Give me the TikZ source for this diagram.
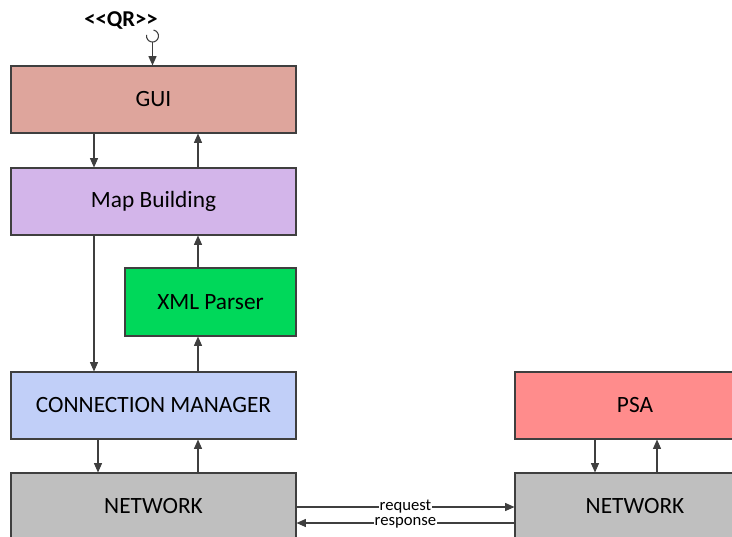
\documentclass[tikz,border=0pt]{standalone}
\usepackage{fontspec}
\setmainfont{Carlito}
\usetikzlibrary{arrows.meta}
\definecolor{guicol}{HTML}{DEA59C}
\definecolor{mapcol}{HTML}{D3B5EA}
\definecolor{xmlcol}{HTML}{00D85A}
\definecolor{cmcol}{HTML}{C1CFF8}
\definecolor{psacol}{HTML}{FF8C8C}
\definecolor{netcol}{HTML}{BFBFBF}
\definecolor{linecol}{HTML}{3F3F3F}
\begin{document}
\begin{tikzpicture}[
  x=0.75pt, y=-0.75pt,
  font=\fontsize{17.5}{20}\selectfont,
  block/.style={draw=linecol,line width=0.8pt,
    minimum width=213.75pt,minimum height=50.25pt,align=center,inner sep=0pt},
  wide/.style={block,minimum width=180pt},
  small/.style={block,minimum width=128.25pt,minimum height=51pt},
  arr/.style={draw=linecol,line width=0.8pt,-{Triangle[length=7pt,width=6pt]}},
  lbl/.style={font=\fontsize{12.5}{13}\selectfont,fill=white,inner xsep=0.5pt,inner ysep=0pt}]
\clip (0,0) rectangle (732,536);
\useasboundingbox (0,0) rectangle (732,536);
\fill[white] (0,0) rectangle (732,536);
% left stack
\node[block,fill=guicol] (gui) at (153.5,99.5) {GUI};
\node[block,fill=mapcol] (map) at (153.5,201.5) {Map Building};
\node[small,fill=xmlcol] (xml) at (210.5,302) {XML Parser};
\node[block,fill=cmcol] (cm) at (153.5,405.5) {CONNECTION MANAGER};
\node[block,fill=netcol] (netl) at (153.5,506.5) {NETWORK};
% right stack
\node[wide,fill=psacol] (psa) at (635,405.5) {PSA};
\node[wide,fill=netcol] (netr) at (635,506.5) {NETWORK};
% qr interface
\node[font=\fontsize{17}{20}\selectfont\bfseries] (qr) at (121,20)
  {\textless\kern0pt\textless QR\textgreater\kern0pt\textgreater};
\coordinate (sockc) at (152.5,36);
\draw[draw=linecol,line width=0.8pt] ([shift={(-80:6)}]sockc) arc[start angle=-80,end angle=190,radius=6];
\coordinate (sock) at (152.5,42);
\draw[arr] (sock) -- (gui.north -| sock);
% x positions of the links
\coordinate (xa) at (94,0);
\coordinate (xb) at (198,0);
\coordinate (xc) at (98,0);
\coordinate (xd) at (595,0);
\coordinate (xe) at (657,0);
\draw[arr] (gui.south -| xa) -- (map.north -| xa);
\draw[arr] (map.north -| xb) -- (gui.south -| xb);
\draw[arr] (map.south -| xa) -- (cm.north -| xa);
\draw[arr] (xml.north -| xb) -- (map.south -| xb);
\draw[arr] (cm.north -| xb) -- (xml.south -| xb);
\draw[arr] (cm.south -| xc) -- (netl.north -| xc);
\draw[arr] (netl.north -| xb) -- (cm.south -| xb);
\draw[arr] (psa.south -| xd) -- (netr.north -| xd);
\draw[arr] (netr.north -| xe) -- (psa.south -| xe);
% network links
\coordinate (yr) at (0,507);
\coordinate (ys) at (0,523);
\draw[arr] (netl.east |- yr) -- node[lbl] {request} (netr.west |- yr);
\draw[arr] (netr.west |- ys) -- node[lbl] {response} (netl.east |- ys);
\end{tikzpicture}
\end{document}
